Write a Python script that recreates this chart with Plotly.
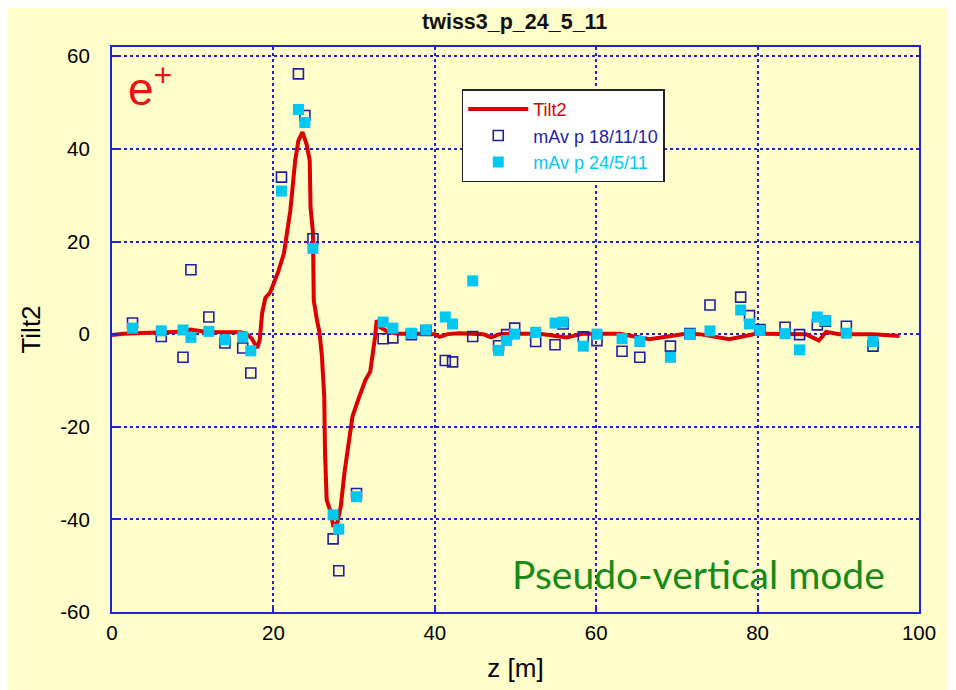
import plotly.graph_objects as go

# ---- data ----
tilt_z = [0, 1.4, 3, 5, 7, 8.5, 9.7, 11.5, 13.5, 15.9, 16.6, 17.3, 18.0, 18.3, 18.6, 19.0,
          19.6, 20.0, 20.6, 21.3, 22.1, 22.7, 23.1, 23.6, 24.1, 24.5, 24.6, 24.9, 24.95,
          25.0, 25.4, 25.7, 26.0, 26.3, 26.4, 26.6, 27.0, 27.4, 27.9, 28.35, 28.8, 29.3,
          29.8, 30.5, 31.4, 32.0, 32.3, 32.6, 32.8, 33.2, 34.2, 35.5, 38, 40, 40.6, 41.6,
          43, 45, 46.0, 47.0, 48, 50, 53, 56.3, 58.4, 62.9, 66.6, 71.1, 72.8, 76.5, 79.8,
          86.0, 87.6, 88.5, 90.1, 94.3, 97.6]
tilt_y = [-0.2, 0.1, 0.2, 0.3, 0.4, 0.5, 1.0, 0.5, 0.4, 0.4, 0.1, -0.9, -3.0, -1.3, 4.5, 7.8,
          9.0, 10.6, 13.5, 17.4, 26.7, 37.5, 41.8, 43.6, 41.1, 37.5, 27.5, 22.0, 16.0,
          7.3, 3.0, 0.5, -4.5, -13.5, -25.7, -35.8, -37.9, -41.2, -40.8, -37.2, -30.0, -24.3,
          -17.8, -14.2, -9.9, -8.1, -4.9, -0.6, 3.0, 1.5, 0.5, 0.1, 0.1, 0.0, -0.6, 0.0,
          0.2, 0.2, 0.0, -0.7, 0.0, 0.1, 0.1, -0.7, 0.1, 0.1, -1.1, 0.1, 0.0, -1.1, 0.1,
          0.0, -1.4, 0.5, 0.0, 0.0, -0.4]

meas_z = [2.54, 6.1, 8.8, 9.78, 12.0, 14.0, 16.2, 17.2, 21.0, 23.1, 23.9, 24.9, 27.4, 28.1,
          30.3, 33.6, 34.8, 37.1, 38.9, 41.3, 42.2, 44.7, 47.9, 48.9, 49.9, 52.5, 54.9, 55.9,
          58.4, 60.1, 63.2, 65.4, 69.2, 71.6, 74.1, 77.9, 79.0, 80.3, 83.4, 85.2, 87.4, 88.4,
          91.0, 94.3]
mav_181110 = [2.4, -0.5, -5.0, 13.9, 3.7, -1.9, -3.0, -8.4, 33.9, 56.2, 47.2, 20.6, -44.2, -51.1,
              -34.4, -1.0, -0.8, -0.1, 0.8, -5.7, -6.0, -0.5, -2.5, -0.1, 1.3, -1.6, -2.3, 2.2,
              -0.6, -1.4, -3.7, -5.0, -2.6, 0.1, 6.3, 8.0, 4.0, 1.0, 1.5, -0.1, 2.0, 2.8,
              1.7, -2.6]
mav_240511 = [1.3, 0.7, 0.9, -0.7, 0.6, -1.2, -0.6, -3.6, 30.9, 48.5, 45.7, 18.5, -39.0, -42.1,
              -35.1, 2.6, 1.3, 0.2, 0.9, 3.7, 2.2, 11.5, -3.5, -1.4, 0.0, 0.4, 2.4, 2.6,
              -2.6, 0.0, -1.0, -1.6, -5.0, 0.0, 0.7, 5.2, 2.2, 0.8, 0.1, -3.4, 3.7, 2.9,
              0.2, -1.6]

x_ticks = [0, 20, 40, 60, 80, 100]
x_tick_labels = ["0", "20", "40", "60", "80", "100"]
y_ticks = [-60, -40, -20, 0, 20, 40, 60]
y_tick_labels = ["-60", "-40", "-20", "0", "20", "40", "60"]

BG = "#FFFDC9"
BLUE = "#2222D0"
RED = "#DD0000"
NAVY = "#1E1EAA"
CYAN = "#00C8F2"
FONT = "Liberation Sans, Arial, sans-serif"

fig = go.Figure()
fig.add_trace(go.Scatter(
    x=tilt_z, y=tilt_y, mode="lines",
    line=dict(color=RED, width=4),
    name=f"<span style='color:{RED}'>Tilt2</span>"))
fig.add_trace(go.Scatter(
    x=meas_z, y=mav_181110, mode="markers",
    marker=dict(symbol="square-open", size=10, color=NAVY, line=dict(width=1.6, color=NAVY)),
    name=f"<span style='color:{NAVY}'>mAv p 18/11/10</span>"))
fig.add_trace(go.Scatter(
    x=meas_z, y=mav_240511, mode="markers",
    marker=dict(symbol="square", size=11, color=CYAN, line=dict(width=0)),
    name=f"<span style='color:{CYAN}'>mAv p 24/5/11</span>"))

axis_common = dict(
    showline=True, linecolor=BLUE, linewidth=2, mirror=True,
    showgrid=True, gridcolor=BLUE, gridwidth=1.5, griddash="dot",
    ticks="inside", ticklen=7, tickcolor=BLUE, tickwidth=1.5,
    zeroline=False,
    tickfont=dict(family=FONT, size=20.5, color="black"),
)

fig.update_layout(
    width=956, height=690,
    paper_bgcolor=BG, plot_bgcolor=BG,
    margin=dict(l=104, r=44.5, t=39, b=86),
    title=dict(text="<b>twiss3_p_24_5_11</b>", x=0.530, xanchor="center", y=0.981, yanchor="middle",
               font=dict(family=FONT, size=21.5, color="#111111")),
    xaxis=dict(range=[0, 100], tickvals=x_ticks, ticktext=x_tick_labels, ticklabelstandoff=1,
               title=dict(text="z [m]", font=dict(family=FONT, size=26, color="black"), standoff=16),
               **axis_common),
    yaxis=dict(range=[-60, 62], tickvals=y_ticks, ticktext=y_tick_labels, ticklabelstandoff=16,
               title=dict(text="Tilt2", font=dict(family=FONT, size=26, color="black"), standoff=12),
               **axis_common),
    legend=dict(x=0.4334, y=0.925, xanchor="left", yanchor="top",
                bgcolor="white", bordercolor="#222222", borderwidth=1.5,
                font=dict(family=FONT, size=18), itemwidth=60, tracegroupgap=0),
    showlegend=True,
)

fig.add_annotation(x=0.017, y=0.985, xref="paper", yref="paper", xanchor="left", yanchor="top",
                   text="e<sup>+</sup>", showarrow=False,
                   font=dict(family=FONT, size=46, color="#EE1111"))
fig.add_annotation(x=0.960, y=0.023, xref="paper", yref="paper", xanchor="right", yanchor="bottom",
                   text="Pseudo-vertical mode", showarrow=False,
                   font=dict(family="Lato, Open Sans, sans-serif", size=39, color="#178A17"))

fig.write_html("out.html")
